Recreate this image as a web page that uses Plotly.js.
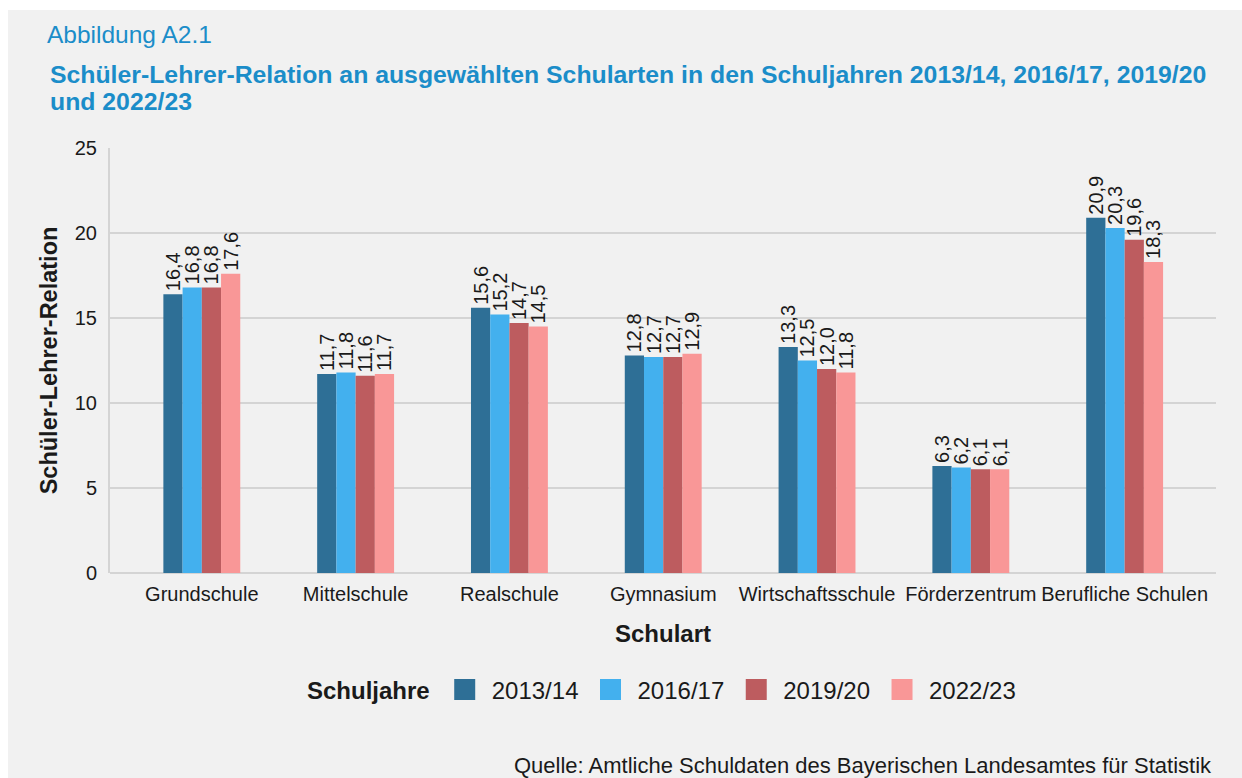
<!DOCTYPE html>
<html>
<head>
<meta charset="utf-8">
<script src="https://cdn.plot.ly/plotly-3.0.1.min.js"></script>
<style>
  html, body { margin: 0; padding: 0; background: #ffffff; }
  #chart { position: absolute; left: 8px; top: 10px; width: 1234px; height: 768px; }
</style>
</head>
<body>
<div id="chart"></div>
<script>
const categories = ["Grundschule", "Mittelschule", "Realschule", "Gymnasium", "Wirtschaftsschule", "Förderzentrum", "Berufliche Schulen"];
const seriesNames = ["2013/14", "2016/17", "2019/20", "2022/23"];
const v2013 = [16.4, 11.7, 15.6, 12.8, 13.3, 6.3, 20.9];
const v2016 = [16.8, 11.8, 15.2, 12.7, 12.5, 6.2, 20.3];
const v2019 = [16.8, 11.6, 14.7, 12.7, 12.0, 6.1, 19.6];
const v2022 = [17.6, 11.7, 14.5, 12.9, 11.8, 6.1, 18.3];
const yTicks = [0, 5, 10, 15, 20, 25];
const seriesValues = [v2013, v2016, v2019, v2022];
const colors = ["#2e6f96", "#43b0ee", "#bd5c5f", "#f99797"];

const FONT = "Liberation Sans, Arial, sans-serif";
const BLUE = "#1b8dc9";

// plot area in div pixels
const L = 101.5, T = 138, W = 1106.5, H = 425;
const px = (x) => (x - L) / W;
const py = (y) => 1 - (y - T) / H;

const traces = [];
seriesNames.forEach((name, i) => {
  traces.push({
    type: "bar",
    name: name,
    x: categories,
    y: seriesValues[i],
    marker: { color: colors[i] },
    texttemplate: "%{y:.1f}",
    textposition: "outside",
    textangle: -90,
    constraintext: "none",
    cliponaxis: false,
    outsidetextfont: { family: FONT, size: 20, color: "#1a1a1a" },
    showlegend: false,
    hoverinfo: "x+y+name"
  });
});
// legend entries (no data drawn)
seriesNames.forEach((name, i) => {
  traces.push({
    type: "scatter",
    mode: "markers",
    name: name,
    x: [null],
    y: [null],
    marker: { symbol: "square", size: 16, color: colors[i], line: { color: colors[i], width: 5 } },
    showlegend: true,
    hoverinfo: "skip"
  });
});

const layout = {
  width: 1234,
  height: 768,
  paper_bgcolor: "#f1f1f1",
  plot_bgcolor: "#f1f1f1",
  separators: ",.",
  font: { family: FONT, color: "#1a1a1a" },
  margin: { l: L, r: 1234 - L - W, t: T, b: 768 - T - H },
  barmode: "group",
  bargap: 0.5,
  bargroupgap: 0,
  title: {
    text: "Abbildung A2.1",
    font: { family: FONT, size: 24.5, color: BLUE },
    xref: "container", yref: "container",
    x: 39 / 1234, xanchor: "left",
    y: 1 - 24 / 768, yanchor: "middle"
  },
  annotations: [
    {
      text: "<b>Schüler-Lehrer-Relation an ausgewählten Schularten in den Schuljahren 2013/14, 2016/17, 2019/20</b>",
      xref: "paper", yref: "paper",
      x: px(39), xanchor: "left",
      y: py(65), yanchor: "middle",
      align: "left",
      showarrow: false,
      font: { family: FONT, size: 24.8, color: BLUE }
    },
    {
      text: "<b>und 2022/23</b>",
      xref: "paper", yref: "paper",
      x: px(39), xanchor: "left",
      y: py(91), yanchor: "middle",
      align: "left",
      showarrow: false,
      font: { family: FONT, size: 24.8, color: BLUE }
    },
    {
      text: "Quelle: Amtliche Schuldaten des Bayerischen Landesamtes für Statistik",
      xref: "paper", yref: "paper",
      x: px(1206), xanchor: "right",
      y: py(755), yanchor: "middle",
      showarrow: false,
      font: { family: FONT, size: 22, color: "#1a1a1a" }
    }
  ],
  xaxis: {
    type: "category",
    range: [-0.597, 6.594],
    showgrid: false,
    zeroline: false,
    showline: false,
    ticks: "",
    ticklabelstandoff: 7,
    tickfont: { family: FONT, size: 20, color: "#1a1a1a" },
    title: { text: "<b>Schulart</b>", font: { family: FONT, size: 24, color: "#1a1a1a" }, standoff: 21 },
    fixedrange: true
  },
  yaxis: {
    range: [0, 25],
    tickvals: yTicks,
    ticktext: yTicks.map(String),
    showgrid: true,
    gridcolor: "#d4d4d4",
    gridwidth: 2,
    zeroline: true,
    zerolinecolor: "#d4d4d4",
    zerolinewidth: 2,
    showline: true,
    linecolor: "#d4d4d4",
    linewidth: 2,
    ticks: "",
    ticklabelstandoff: 7,
    tickfont: { family: FONT, size: 20, color: "#1a1a1a" },
    title: { text: "<b>Schüler-Lehrer-Relation</b>", font: { family: FONT, size: 23.5, color: "#1a1a1a" }, standoff: 11 },
    fixedrange: true
  },
  legend: {
    orientation: "h",
    x: 0.5, xanchor: "center",
    y: py(680), yanchor: "middle",
    itemwidth: 44,
    font: { family: FONT, size: 24, color: "#1a1a1a" },
    title: { text: "<b>Schuljahre</b>", side: "left", font: { family: FONT, size: 24, color: "#1a1a1a" } },
    bgcolor: "rgba(0,0,0,0)",
    traceorder: "normal"
  },
  showlegend: true
};

Plotly.newPlot("chart", traces, layout, { displayModeBar: false, staticPlot: true });
</script>
</body>
</html>
